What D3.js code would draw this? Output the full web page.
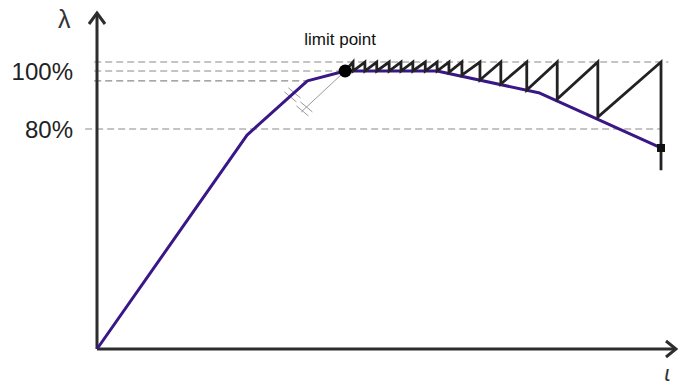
<!DOCTYPE html>
<html>
<head>
<meta charset="utf-8">
<script src="https://cdn.jsdelivr.net/npm/d3@7"></script>
<style>
  html, body { margin: 0; padding: 0; background: #fff; }
  svg { display: block; font-family: Arial, 'Liberation Sans', sans-serif; }
</style>
</head>
<body>
<div id="chart"></div>
<script>
// equilibrium path (displacement u, load factor lambda in %)
const curveU = [0, 0.266, 0.373, 0.44, 0.603, 0.785, 1.0]
const curveLambda = [0, 77.8, 96.6, 100, 100, 92.4, 73.1]
// load-control sawtooth: drop positions and where each drop lands
const toothU = [0.454, 0.475, 0.496, 0.518, 0.539, 0.560, 0.582, 0.603, 0.624, 0.647, 0.679, 0.716, 0.762, 0.816, 0.888, 1.0]
const toothBottom = [100, 100, 100, 100, 100, 100, 100, 100, 99.5, 98.6, 96.9, 95.5, 93.4, 90.3, 84.1, 65]
const toothTop = 103.1
// limit point and reference levels
const limitPoint = { u: 0.44, lambda: 100 }
const endPoint = { u: 1.0, lambda: 73.1 }
const levels = [103.1, 100, 96.6, 80]
const tickValues = [100, 80]
const tickLabels = ['100%', '80%']

const width = 678
const height = 385

const svg = d3.select('#chart').append('svg')
  .attr('width', width)
  .attr('height', height)

const x = d3.scaleLinear().domain([0, 1]).range([97, 661])
const y = d3.scaleLinear().domain([0, 80, 100]).range([349, 129, 71])

// dashed reference levels
const levelEnds = [[-0.005, 1.013], [-0.005, limitPoint.u], [-0.005, curveU[2]], [-0.021, 0.998]]
svg.append('g')
  .selectAll('line')
  .data(levels)
  .enter().append('line')
  .attr('x1', (d, i) => x(levelEnds[i][0]))
  .attr('x2', (d, i) => x(levelEnds[i][1]))
  .attr('y1', d => y(d))
  .attr('y2', d => y(d))
  .attr('stroke', '#8a8a8a')
  .attr('stroke-width', 1.2)
  .attr('stroke-dasharray', '7,4')

// axes with open arrow heads
const axisColor = '#2d2d2d'
svg.append('line')
  .attr('x1', x(0)).attr('y1', y(0))
  .attr('x2', x(0)).attr('y2', 13)
  .attr('stroke', axisColor).attr('stroke-width', 3)
svg.append('path')
  .attr('d', `M${x(0) - 8},${24} L${x(0)},${13} L${x(0) + 8},${24}`)
  .attr('fill', 'none').attr('stroke', axisColor).attr('stroke-width', 3)
svg.append('line')
  .attr('x1', x(0)).attr('y1', y(0))
  .attr('x2', 675).attr('y2', y(0))
  .attr('stroke', axisColor).attr('stroke-width', 3)
svg.append('path')
  .attr('d', `M${666},${y(0) - 8} L${676},${y(0)} L${666},${y(0) + 8}`)
  .attr('fill', 'none').attr('stroke', axisColor).attr('stroke-width', 3)

// tick labels
svg.append('g')
  .selectAll('text')
  .data(tickValues)
  .enter().append('text')
  .attr('x', 73)
  .attr('y', d => y(d) + 9)
  .attr('text-anchor', 'end')
  .attr('font-size', 24)
  .attr('fill', '#222')
  .text((d, i) => tickLabels[i])

// axis titles
svg.append('text')
  .attr('x', 58).attr('y', 28)
  .attr('font-size', 25)
  .attr('fill', '#333')
  .text('λ')
svg.append('text')
  .attr('x', 664).attr('y', 381)
  .attr('font-size', 21)
  .attr('font-style', 'italic')
  .attr('fill', '#333')
  .attr('font-family', "'DejaVu Sans', sans-serif")
  .text('ι')

// equal-length marks near the limit point
const line = d3.line().x(d => d[0]).y(d => d[1])
svg.append('line')
  .attr('x1', x(limitPoint.u)).attr('y1', y(limitPoint.lambda))
  .attr('x2', x(curveU[2]) - 6).attr('y2', y(curveLambda[2]) + 31)
  .attr('stroke', '#999').attr('stroke-width', 1)
const hatchCenters = [[x(curveU[2]) - 15, y(curveLambda[2]) + 14], [x(curveU[2]) - 3, y(curveLambda[2]) + 28]]
hatchCenters.forEach(c => {
  [-2, 2].forEach(o => {
    svg.append('path')
      .attr('d', line([[c[0] - 6 + o, c[1] - 5 - o], [c[0] + 6 + o, c[1] + 5 - o]]))
      .attr('stroke', '#999').attr('stroke-width', 1)
  })
})

// sawtooth response
const sawPts = [[x(limitPoint.u), y(limitPoint.lambda)]]
toothU.forEach((u, i) => {
  sawPts.push([x(u), y(toothTop)])
  sawPts.push([x(u), y(toothBottom[i])])
})

// equilibrium path
svg.append('path')
  .attr('d', line(curveU.map((u, i) => [x(u), y(curveLambda[i])])))
  .attr('fill', 'none')
  .attr('stroke', '#3a1786')
  .attr('stroke-width', 3)
  .attr('stroke-linejoin', 'round')

svg.append('path')
  .attr('d', line(sawPts))
  .attr('fill', 'none')
  .attr('stroke', '#222')
  .attr('stroke-width', 2.8)
  .attr('stroke-linejoin', 'miter')

// end marker
svg.append('rect')
  .attr('x', x(endPoint.u) - 4).attr('y', y(endPoint.lambda) - 4)
  .attr('width', 8).attr('height', 8)
  .attr('fill', '#111')

// limit point
svg.append('circle')
  .attr('cx', x(limitPoint.u)).attr('cy', y(limitPoint.lambda))
  .attr('r', 6.5)
  .attr('fill', '#000')
svg.append('text')
  .attr('x', x(limitPoint.u) - 5).attr('y', 45)
  .attr('text-anchor', 'middle')
  .attr('font-size', 17)
  .attr('fill', '#111')
  .text('limit point')
</script>
</body>
</html>
